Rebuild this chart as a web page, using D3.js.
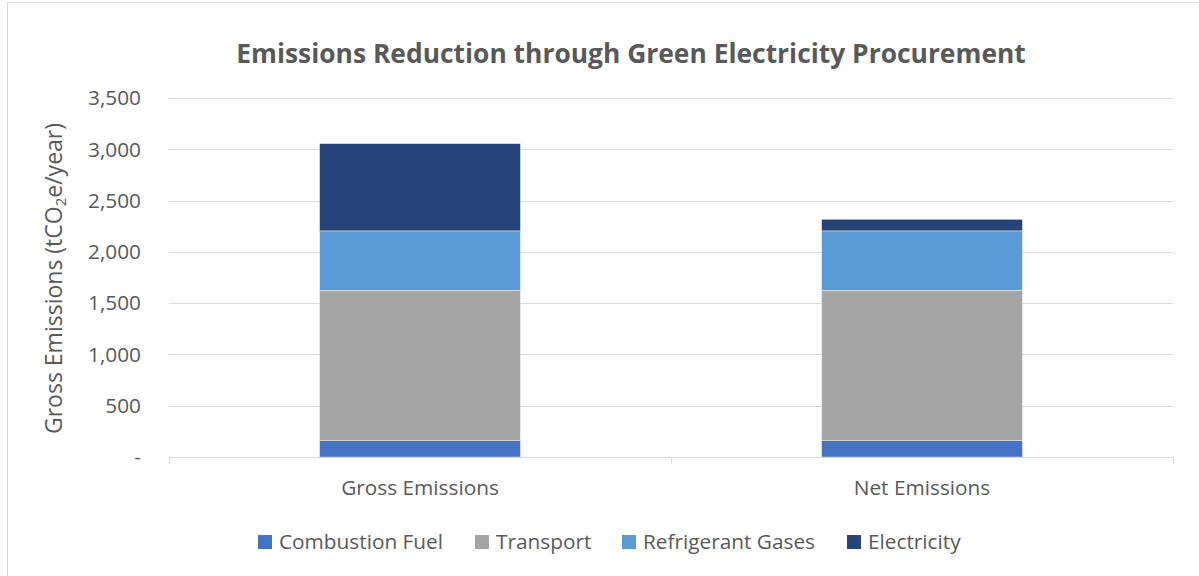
<!DOCTYPE html>
<html>
<head>
<meta charset="utf-8">
<script src="https://cdn.jsdelivr.net/npm/d3@7"></script>
<style>
  body { margin: 0; background: #fff; }
  svg { display: block; font-family: "Open Sans", Lato, sans-serif; }
</style>
</head>
<body>
<div id="chart"></div>
<script>
// chart data
const categories = ["Gross Emissions", "Net Emissions"];
const seriesNames = ["Combustion Fuel", "Transport", "Refrigerant Gases", "Electricity"];
const combustionFuel = [160, 160];
const transport = [1465, 1465];
const refrigerantGases = [580, 580];
const electricity = [850, 112];
const yTicks = [0, 500, 1000, 1500, 2000, 2500, 3000, 3500];
const colors = ["#4472C4", "#A5A5A5", "#5B9BD5", "#264478"];

const width = 1199, height = 576;
const margin = { top: 98, right: 26, bottom: 119, left: 169 };

const svg = d3.select("#chart").append("svg")
    .attr("width", width)
    .attr("height", height);

// outer chart border
svg.append("rect")
    .attr("x", 7.5).attr("y", 2.5)
    .attr("width", width).attr("height", height)
    .attr("fill", "none")
    .attr("stroke", "#d9d9d9");

const rows = categories.map((c, i) => ({
    category: c,
    "Combustion Fuel": combustionFuel[i],
    "Transport": transport[i],
    "Refrigerant Gases": refrigerantGases[i],
    "Electricity": electricity[i]
}));
const stacked = d3.stack().keys(seriesNames)(rows);

const x = d3.scaleBand()
    .domain(categories)
    .range([margin.left, width - margin.right])
    .paddingInner(0.6)
    .paddingOuter(0.3);
const xOuter = d3.scaleBand()
    .domain(categories)
    .range([margin.left, width - margin.right]);

const y = d3.scaleLinear()
    .domain([0, 3500])
    .range([height - margin.bottom, margin.top]);

const fmt = d => d === 0 ? "-" : d3.format(",")(d);

// gridlines
svg.append("g")
    .selectAll("line")
    .data(yTicks.filter(d => d > 0))
    .join("line")
    .attr("x1", margin.left).attr("x2", width - margin.right)
    .attr("y1", d => Math.round(y(d)) + 0.5).attr("y2", d => Math.round(y(d)) + 0.5)
    .attr("stroke", "#d9d9d9")
    .attr("stroke-width", 1);

// y tick labels
svg.append("g")
    .selectAll("text")
    .data(yTicks)
    .join("text")
    .attr("x", 141)
    .attr("y", d => y(d))
    .attr("dy", "0.35em")
    .attr("text-anchor", "end")
    .attr("fill", "#595959")
    .attr("font-size", "20.8px")
    .text(fmt);

// bars
svg.append("g")
    .selectAll("g")
    .data(stacked)
    .join("g")
    .attr("fill", (d, i) => colors[i])
    .selectAll("rect")
    .data(d => d)
    .join("rect")
    .attr("x", d => x(d.data.category))
    .attr("y", d => y(d[1]))
    .attr("width", x.bandwidth())
    .attr("height", d => y(d[0]) - y(d[1]))
    .attr("stroke", "#ffffff")
    .attr("stroke-opacity", 0.5)
    .attr("stroke-width", 0.75);

// x axis
const x0 = Math.round(y(0)) + 0.5;
svg.append("line")
    .attr("x1", margin.left).attr("x2", width - margin.right)
    .attr("y1", x0).attr("y2", x0)
    .attr("stroke", "#d9d9d9");
const tickXs = [margin.left, ...categories.map(c => xOuter(c) + xOuter.bandwidth())];
svg.append("g")
    .selectAll("line")
    .data(tickXs)
    .join("line")
    .attr("x1", d => Math.round(d) + 0.5).attr("x2", d => Math.round(d) + 0.5)
    .attr("y1", x0).attr("y2", x0 + 6)
    .attr("stroke", "#d9d9d9");

svg.append("g")
    .selectAll("text")
    .data(categories)
    .join("text")
    .attr("x", d => xOuter(d) + xOuter.bandwidth() / 2)
    .attr("y", 495)
    .attr("text-anchor", "middle")
    .attr("fill", "#595959")
    .attr("font-size", "20.8px")
    .text(d => d);

// y axis title
const yTitle = svg.append("text")
    .attr("transform", `translate(62, ${(margin.top + height - margin.bottom) / 2 + 1}) rotate(-90)`)
    .attr("text-anchor", "middle")
    .attr("fill", "#595959")
    .attr("font-size", "23px");
yTitle.append("tspan").text("Gross Emissions (tCO");
yTitle.append("tspan").attr("font-size", "15px").attr("dy", 4).text("2");
yTitle.append("tspan").attr("dy", -4).text("e/year)");

// chart title
svg.append("text")
    .attr("x", 631)
    .attr("y", 63)
    .attr("text-anchor", "middle")
    .attr("fill", "#595959")
    .attr("font-size", "26.4px")
    .attr("font-weight", "bold")
    .text("Emissions Reduction through Green Electricity Procurement");

// legend
const legendX = [258, 475, 622, 847];
const legend = svg.append("g")
    .selectAll("g")
    .data(seriesNames)
    .join("g")
    .attr("transform", (d, i) => `translate(${legendX[i]}, 542)`);
legend.append("rect")
    .attr("x", 0).attr("y", -7)
    .attr("width", 14).attr("height", 14)
    .attr("fill", (d, i) => colors[i]);
legend.append("text")
    .attr("x", 21)
    .attr("y", 0)
    .attr("dy", "0.35em")
    .attr("fill", "#595959")
    .attr("font-size", "20.8px")
    .text(d => d);
</script>
</body>
</html>
